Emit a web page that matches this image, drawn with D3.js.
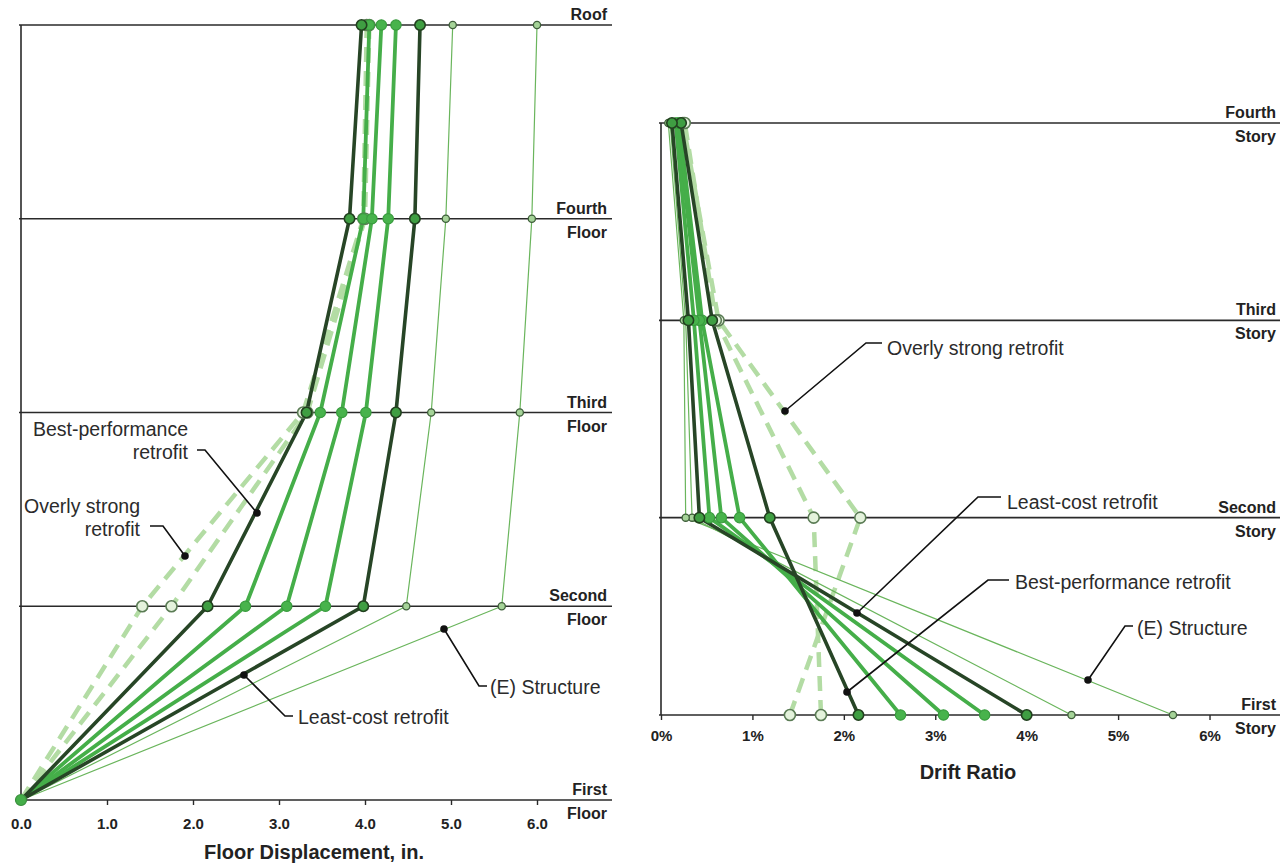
<!DOCTYPE html>
<html><head><meta charset="utf-8">
<script src="https://cdn.jsdelivr.net/npm/d3@7"></script>
<style>
body{margin:0;background:#fff}
text{font-family:"Liberation Sans",Arial,Helvetica,sans-serif}
</style>
</head><body>
<svg id="c" width="1288" height="863"></svg>
<script>
// ---------- DATA ----------
const floors = ["First", "Second", "Third", "Fourth", "Roof"];
const stories = ["First", "Second", "Third", "Fourth"];
const dispTicks = [0, 1, 2, 3, 4, 5, 6];
const driftTicks = [0, 1, 2, 3, 4, 5, 6];
const seriesKeys = ["overlyA", "overlyB", "best", "mid1", "mid2", "mid3", "least", "existA", "existB"];

// Floor displacement (in.) at First, Second, Third, Fourth, Roof
const dispOverlyA = [0, 1.41, 3.28, 3.98, 4.02];
const dispOverlyB = [0, 1.75, 3.33, 4.00, 4.05];
const dispBest    = [0, 2.17, 3.32, 3.82, 3.96];
const dispMid1    = [0, 2.61, 3.48, 3.98, 4.05];
const dispMid2    = [0, 3.09, 3.73, 4.08, 4.19];
const dispMid3    = [0, 3.54, 4.01, 4.27, 4.36];
const dispLeast   = [0, 3.98, 4.36, 4.58, 4.64];
const dispExistA  = [0, 4.48, 4.77, 4.94, 5.02];
const dispExistB  = [0, 5.59, 5.80, 5.94, 6.00];

// Drift ratio (%) at First, Second, Third, Fourth story
const driftOverlyA = [1.41, 2.18, 0.63, 0.24];
const driftOverlyB = [1.75, 1.67, 0.60, 0.26];
const driftBest    = [2.16, 1.19, 0.56, 0.22];
const driftMid1    = [2.62, 0.86, 0.45, 0.20];
const driftMid2    = [3.09, 0.66, 0.42, 0.18];
const driftMid3    = [3.54, 0.53, 0.36, 0.16];
const driftLeast   = [4.00, 0.42, 0.30, 0.12];
const driftExistA  = [4.49, 0.34, 0.27, 0.10];
const driftExistB  = [5.60, 0.27, 0.25, 0.08];

const dispData = [dispOverlyA, dispOverlyB, dispBest, dispMid1, dispMid2, dispMid3, dispLeast, dispExistA, dispExistB];
const driftData = [driftOverlyA, driftOverlyB, driftBest, driftMid1, driftMid2, driftMid3, driftLeast, driftExistA, driftExistB];

// ---------- STYLES ----------
const kind = {overlyA:"dash", overlyB:"dash", best:"dark", mid1:"mid", mid2:"mid", mid3:"mid", least:"dark", existA:"thin", existB:"thin"};
const lineStyle = {
  dash: {stroke:"#b3dca4", width:4.5, dash:"15,9"},
  thin: {stroke:"#6ab55c", width:1.2, dash:null},
  mid:  {stroke:"#45ae49", width:3.8, dash:null},
  dark: {stroke:"#274526", width:3.6, dash:null}
};
const dotStyle = {
  dash: {r:5.5, fill:"#e4f2dc", stroke:"#5b7c55", sw:1.6},
  thin: {r:3.6, fill:"#a5d398", stroke:"#3e5e3a", sw:1.3},
  mid:  {r:5.2, fill:"#48b34c", stroke:"#3a9c3f", sw:1.2},
  dark: {r:5.2, fill:"#3f9e42", stroke:"#22401f", sw:1.6}
};
const drawOrder = ["dash", "thin", "mid", "dark"];

const svg = d3.select("#c");
const axisColor = "#2a2a2a";

function drawPanel(cfg) {
  const g = svg.append("g");
  const x = cfg.x, y = cfg.y;
  cfg.levels.forEach(l => {
    g.append("line").attr("x1", x.range()[0] - 2).attr("x2", cfg.lineEnd)
      .attr("y1", y(l)).attr("y2", y(l)).attr("stroke", axisColor).attr("stroke-width", 1.6);
  });
  g.append("line").attr("x1", x.range()[0]).attr("x2", x.range()[0])
    .attr("y1", y(cfg.levels[cfg.levels.length - 1])).attr("y2", y(cfg.levels[0]))
    .attr("stroke", axisColor).attr("stroke-width", 1.6);
  const ax = g.append("g").attr("transform", `translate(0,${y(cfg.levels[0])})`)
    .call(d3.axisBottom(x).tickValues(cfg.ticks).tickSize(5).tickFormat(cfg.fmt));
  ax.select(".domain").remove();
  ax.selectAll(".tick line").attr("stroke", axisColor).attr("stroke-width", 1.4);
  ax.selectAll(".tick text").attr("font-size", 15).attr("font-weight", "bold")
    .attr("fill", "#222").attr("font-family", '"Liberation Sans",Arial,sans-serif')
    .attr("dy", null).attr("y", cfg.tickLabelDy);
  cfg.levels.forEach((l, i) => {
    const lines = cfg.labelLines(l, i);
    if (lines[0]) g.append("text").attr("x", cfg.labelRight).attr("y", y(l) - 5).attr("text-anchor", "end")
      .attr("font-size", 16).attr("font-weight", "bold").attr("fill", "#222").text(lines[0]);
    if (lines[1]) g.append("text").attr("x", cfg.labelRight).attr("y", y(l) + 19).attr("text-anchor", "end")
      .attr("font-size", 16).attr("font-weight", "bold").attr("fill", "#222").text(lines[1]);
  });
  g.append("text").attr("x", cfg.titleX).attr("y", cfg.titleY).attr("text-anchor", "middle")
    .attr("font-size", 20).attr("font-weight", "bold").attr("fill", "#222").text(cfg.title);

  const line = d3.line().x(d => x(d.v)).y(d => y(d.l));
  drawOrder.forEach(k => {
    seriesKeys.forEach((key, si) => {
      if (kind[key] !== k) return;
      const pts = cfg.data[si].map((v, i) => ({v, l: cfg.levels[i]}));
      const ls = lineStyle[k];
      g.append("path").datum(pts).attr("d", line).attr("fill", "none")
        .attr("stroke", ls.stroke).attr("stroke-width", ls.width)
        .attr("stroke-dasharray", ls.dash).attr("stroke-linejoin", "round");
    });
  });
  drawOrder.forEach(k => {
    seriesKeys.forEach((key, si) => {
      if (kind[key] !== k) return;
      const ds = dotStyle[k];
      const pts = cfg.data[si].map((v, i) => ({v, l: cfg.levels[i]}));
      g.selectAll(null).data(pts.filter(p => p.v > 0 || cfg.keepZero)).enter().append("circle")
        .attr("cx", d => x(d.v)).attr("cy", d => y(d.l)).attr("r", ds.r)
        .attr("fill", ds.fill).attr("stroke", ds.stroke).attr("stroke-width", ds.sw);
    });
  });
  return g;
}

// Left panel
const xL = d3.scaleLinear().domain([0, 6.9]).range([21, 614.4]);
const yL = d3.scalePoint().domain(floors).range([800, 25]);
drawPanel({
  x: xL, y: yL, levels: floors, data: dispData, ticks: dispTicks,
  fmt: d3.format(".1f"), lineEnd: 612, labelRight: 607,
  tickLabelDy: 29, keepZero: false,
  labelLines: (l) => l === "Roof" ? ["Roof", null] : [l, "Floor"],
  title: "Floor Displacement, in.", titleX: 314, titleY: 859
});
svg.append("circle").attr("cx", xL(0)).attr("cy", yL("First")).attr("r", 5.5)
  .attr("fill", "#45ae49").attr("stroke", "#3a8f3d").attr("stroke-width", 1.2);

// Right panel
const xR = d3.scaleLinear().domain([0, 6.76]).range([661, 1279]);
const yR = d3.scalePoint().domain(stories).range([715, 123]);
drawPanel({
  x: xR, y: yR, levels: stories, data: driftData, ticks: driftTicks,
  fmt: d => d + "%", lineEnd: 1280, labelRight: 1276,
  tickLabelDy: 26, keepZero: true,
  labelLines: (l) => [l, "Story"],
  title: "Drift Ratio", titleX: 968, titleY: 779
});

// ---------- ANNOTATIONS ----------
function note(lines, anchor, tx, ty, path, dot) {
  const g = svg.append("g");
  lines.forEach((t, i) => g.append("text").attr("x", tx).attr("y", ty + i * 22.5)
    .attr("text-anchor", anchor).attr("font-size", 19.5).attr("fill", "#2b2b2b").text(t));
  g.append("path").attr("d", d3.line()(path)).attr("fill", "none").attr("stroke", "#111").attr("stroke-width", 1.6);
  g.append("circle").attr("cx", dot[0]).attr("cy", dot[1]).attr("r", 3.8).attr("fill", "#111");
}
note(["Best-performance", "retrofit"], "end", 188, 436, [[197,450],[205,450],[257,513]], [257,513]);
note(["Overly strong", "retrofit"], "end", 140, 513, [[150,526],[163,526],[185,556]], [185,556]);
note(["Least-cost retrofit"], "start", 298, 724, [[293,716],[285,716],[244,675]], [244,675]);
note(["(E) Structure"], "start", 490, 694, [[487,686],[479,686],[444,629]], [444,629]);

note(["Overly strong retrofit"], "start", 887, 355, [[882,343],[866,343],[785,411]], [785,411]);
note(["Least-cost retrofit"], "start", 1007, 509, [[1001,497],[978,497],[857,613]], [857,613]);
note(["Best-performance retrofit"], "start", 1015, 589, [[1009,580],[988,580],[847,692]], [847,692]);
note(["(E) Structure"], "start", 1137, 635, [[1133,626],[1125,626],[1088,680]], [1088,680]);
</script>
</body></html>
